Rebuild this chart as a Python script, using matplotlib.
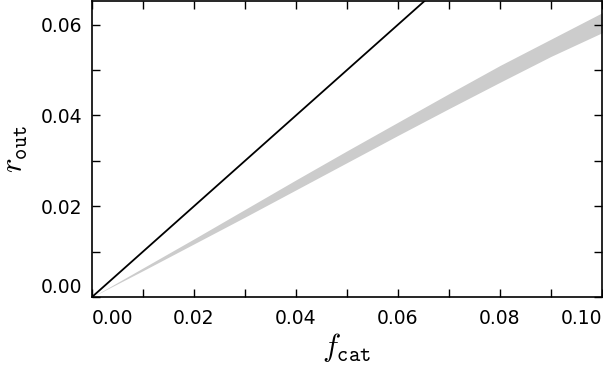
import matplotlib
matplotlib.use("Agg")
import matplotlib.pyplot as plt
from matplotlib.ticker import FixedLocator, MultipleLocator, FormatStrFormatter

# ---- data ----
f_cat = [0.0, 0.01, 0.02, 0.03, 0.04, 0.05, 0.06, 0.07, 0.08, 0.09, 0.10, 0.104]
r_out_low = [0.0, 0.0058, 0.0117, 0.0176, 0.0236, 0.0296, 0.0356, 0.0415, 0.0473, 0.0530, 0.0582, 0.0600]
r_out_high = [0.0, 0.0064, 0.0128, 0.0193, 0.0258, 0.0322, 0.0385, 0.0448, 0.0510, 0.0568, 0.0626, 0.0646]
diag_x = [0.0, 0.07]
diag_y = [0.0, 0.07]
x_ticks = [0.00, 0.02, 0.04, 0.06, 0.08, 0.10]
y_ticks = [0.00, 0.02, 0.04, 0.06]

plt.rcParams['mathtext.fontset'] = 'cm'
plt.rcParams['font.family'] = 'DejaVu Sans'

fig = plt.figure(figsize=(6.03, 3.66), dpi=100)
ax = fig.add_axes([92/603, 69/366, 510/603, 296/366])

ax.fill_between(f_cat, r_out_low, r_out_high, color='#cccccc', linewidth=0)
ax.plot(diag_x, diag_y, color='black', linewidth=1.3)

ax.set_xlim(0, 0.1)
ax.set_ylim(0, 0.0652)

ax.xaxis.set_major_locator(FixedLocator(x_ticks))
ax.xaxis.set_minor_locator(MultipleLocator(0.01))
ax.yaxis.set_major_locator(FixedLocator(y_ticks))
ax.yaxis.set_minor_locator(MultipleLocator(0.01))
ax.xaxis.set_major_formatter(FormatStrFormatter('%.2f'))
ax.yaxis.set_major_formatter(FormatStrFormatter('%.2f'))

ax.tick_params(which='both', direction='in', top=True, right=True,
               length=6, width=1.0, labelsize=13.5)
ax.tick_params(axis='x', which='major', pad=9)
ax.tick_params(axis='y', which='major', pad=7)
for s in ax.spines.values():
    s.set_linewidth(1.2)

# keep end labels inside the axes span
xt = ax.xaxis.get_major_ticks()
xt[0].label1.set_horizontalalignment('left')
xt[-1].label1.set_horizontalalignment('right')
yt = ax.yaxis.get_major_ticks()
yt[0].label1.set_verticalalignment('bottom')

ax.set_xlabel(r'$f_{\mathtt{cat}}$', fontsize=22, labelpad=2)
ax.set_ylabel(r'$r_{\mathtt{out}}$', fontsize=22, labelpad=8)

fig.savefig('out.png', dpi=100)
